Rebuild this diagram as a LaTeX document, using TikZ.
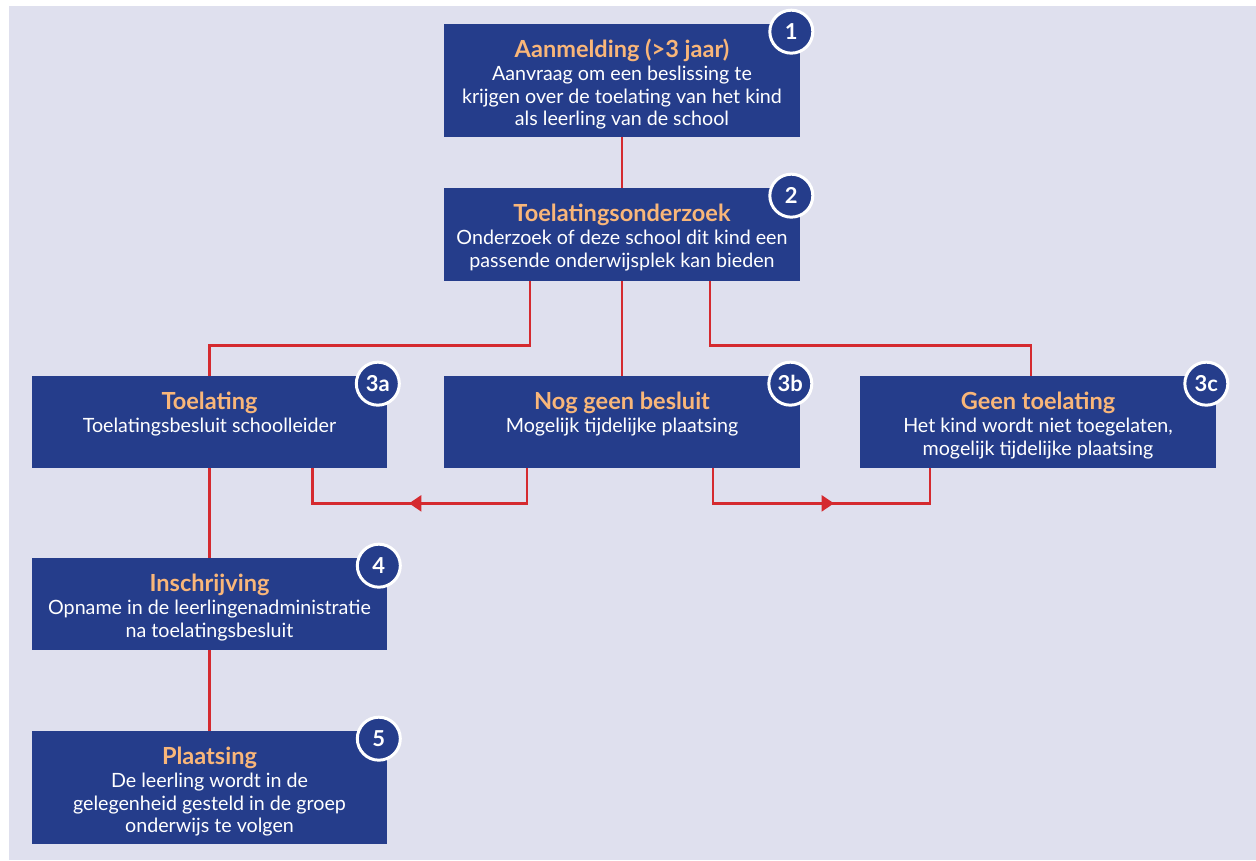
\documentclass[tikz,border=0pt]{standalone}
\usepackage{fontspec}
\setmainfont{Lato}
\usetikzlibrary{positioning,calc,arrows.meta,decorations.markings}

\definecolor{achter}{HTML}{DFE0EE}
\definecolor{vakblauw}{HTML}{253D8B}
\definecolor{titel}{HTML}{F9B679}
\definecolor{lijnrood}{HTML}{D52A2F}

% box content: height, title, body
\newcommand{\stap}[3]{\parbox[c][#1][t]{7.12cm}{\centering\rule{0pt}{18.8pt}{\fontsize{13.4}{14}\selectfont\bfseries\color{titel}#2}\\[0.8pt]#3}}

\tikzset{
	vak/.style={fill=vakblauw, inner sep=0pt, text=white, font=\fontsize{11.2}{12.8}\selectfont},
	nummer/.style={circle, fill=vakblauw, draw=white, line width=1.7pt, minimum size=0.86cm, inner sep=0pt, text=white, font=\fontsize{12.5}{12.5}\selectfont\bfseries},
	lijn/.style={draw=lijnrood, line width=1.6pt},
	pijl/.style={lijn, postaction={decorate}, decoration={markings, mark=at position #1 with {\arrow{Triangle[length=7pt,width=9pt]}}}}
}

\begin{document}
\begin{tikzpicture}[x=0.02cm, y=-0.02cm]
	\useasboundingbox (0,0) rectangle (1256,860);
	\fill[achter] (9,6) rectangle (1256,860);

	% boxes
	\node[vak] (n1) at (622,80.5) {\stap{2.26cm}{Aanmelding (>3 jaar)}{Aanvraag om een beslissing te\\krijgen over de toelating van het kind\\als leerling van de school}};
	\node[vak] (n2) at (622,234.5) {\stap{1.86cm}{Toelatingsonderzoek}{Onderzoek of deze school dit kind een\\passende onderwijsplek kan bieden}};
	\node[vak] (n3a) at (209.5,422) {\stap{1.84cm}{Toelating}{Toelatingsbesluit schoolleider}};
	\node[vak] (n3b) at (622,422) {\stap{1.84cm}{Nog geen besluit}{Mogelijk tijdelijke plaatsing}};
	\node[vak] (n3c) at (1038,422) {\stap{1.84cm}{Geen toelating}{Het kind wordt niet toegelaten,\\mogelijk tijdelijke plaatsing}};
	\node[vak] (n4) at (209.5,604) {\stap{1.84cm}{Inschrijving}{Opname in de leerlingenadministratie\\na toelatingsbesluit}};
	\node[vak] (n5) at (209.5,787.5) {\stap{2.26cm}{Plaatsing}{De leerling wordt in de\\gelegenheid gesteld in de groep\\onderwijs te volgen}};

	% numbers
	\node[nummer] (c1) at ($(n1.north east)+(-9,8)$) {1};
	\node[nummer] (c2) at ($(n2.north east)+(-9,8)$) {2};
	\node[nummer] (c3a) at ($(n3a.north east)+(-10,8)$) {3a};
	\node[nummer] (c3b) at ($(n3b.north east)+(-10,8)$) {3b};
	\node[nummer] (c3c) at ($(n3c.north east)+(-10,8)$) {3c};
	\node[nummer] (c4) at ($(n4.north east)+(-9,8)$) {4};
	\node[nummer] (c5) at ($(n5.north east)+(-9,8)$) {5};

	% connectors
	\draw[lijn] (n1) -- (n2);
	\draw[lijn] ($(n2.south)+(-92,0)$) -- ++(0,64) -| (n3a.north);
	\draw[lijn] (n2) -- (n3b);
	\draw[lijn] ($(n2.south)+(88,0)$) -- ++(0,64) -| ($(n3c.north)+(-7,0)$);
	\draw[lijn] (n3a) -- (n4);
	\draw[lijn] (n4) -- (n5);
	\draw[pijl=3.06cm] ($(n3b.south)+(-95,0)$) -- ++(0,35) -| ($(n3a.south)+(103,0)$);
	\draw[pijl=3.12cm] ($(n3b.south)+(91,0)$) -- ++(0,35) -| ($(n3c.south)+(-108,0)$);
\end{tikzpicture}
\end{document}
